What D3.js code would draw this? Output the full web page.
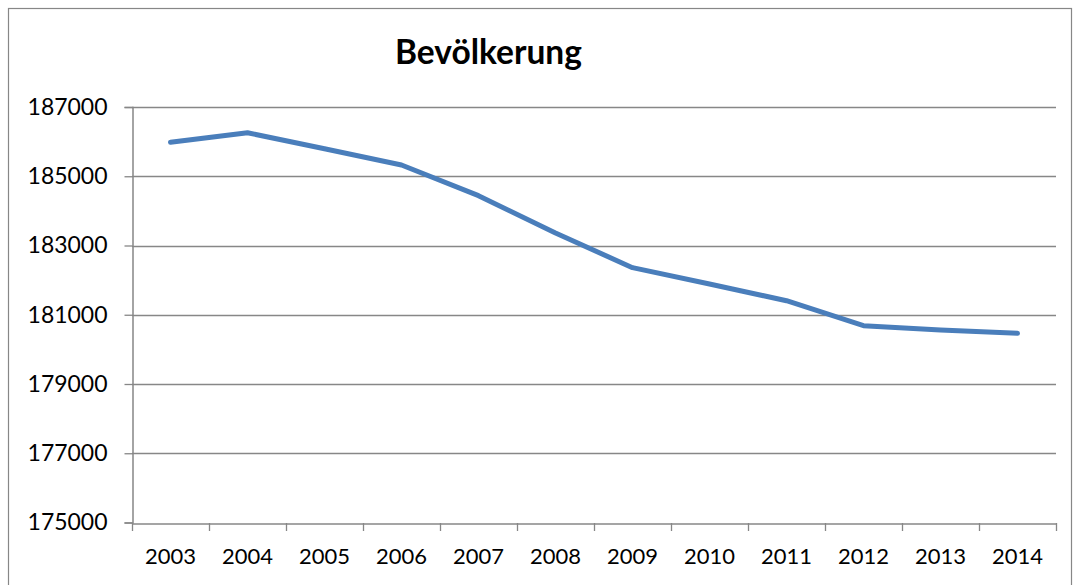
<!DOCTYPE html>
<html>
<head>
<meta charset="utf-8">
<script src="https://cdn.jsdelivr.net/npm/d3@7"></script>
<style>
  html, body { margin: 0; padding: 0; background: #fff; }
  svg { display: block; }
  text { font-family: Lato, "Open Sans", sans-serif; fill: #000; }
</style>
</head>
<body>
<svg id="chart" width="1074" height="585"></svg>
<script>
const title = "Bevölkerung";
const years = ["2003","2004","2005","2006","2007","2008","2009","2010","2011","2012","2013","2014"];
const population = [185980, 186255, 185795, 185325, 184440, 183360, 182360, 181890, 181405, 180685, 180560, 180465];
const yTicks = [175000, 177000, 179000, 181000, 183000, 185000, 187000];

const svg = d3.select("#chart");
const m = { left: 132, right: 1056, top: 107, bottom: 522.5 };

// outer border
svg.append("rect")
  .attr("x", 8.5).attr("y", 8.5)
  .attr("width", 1063).attr("height", 600)
  .attr("fill", "#fff").attr("stroke", "#878787").attr("stroke-width", 1.2);

const x = d3.scaleBand().domain(years).range([m.left, m.right]).paddingInner(0).paddingOuter(0);
const y = d3.scaleLinear().domain([175000, 187000]).range([m.bottom, m.top]);

// gridlines
svg.append("g").selectAll("line").data(yTicks.filter(d => d !== 175000)).join("line")
  .attr("x1", m.left).attr("x2", m.right)
  .attr("y1", d => Math.round(y(d)) + 0.5).attr("y2", d => Math.round(y(d)) + 0.5)
  .attr("stroke", "#878787").attr("stroke-width", 1.3);

// y axis
const yAxis = svg.append("g")
  .attr("transform", `translate(${m.left + 0.5},0)`)
  .call(d3.axisLeft(y).tickValues(yTicks).tickFormat(d3.format("d")).tickSize(8).tickPadding(17));
yAxis.select(".domain").attr("stroke", "#878787").attr("stroke-width", 1.5);
yAxis.selectAll(".tick line").attr("stroke", "#878787").attr("stroke-width", 1.3);
yAxis.selectAll(".tick text").attr("font-size", 20).attr("font-family", "Lato, sans-serif").attr("fill", "#000");

// x axis
const xAxis = svg.append("g")
  .attr("transform", `translate(0,${Math.round(m.bottom) + 0.5})`)
  .call(d3.axisBottom(x).tickSize(0).tickPadding(25));
xAxis.select(".domain").attr("stroke", "#878787").attr("stroke-width", 1.5);
xAxis.selectAll(".tick text").attr("font-size", 20).attr("font-family", "Lato, sans-serif").attr("fill", "#000");
// category boundary ticks
const bounds = years.map(d => x(d)).concat([x(years[years.length - 1]) + x.bandwidth()]);
svg.append("g").selectAll("line").data(bounds).join("line")
  .attr("x1", d => Math.round(d) + 0.5).attr("x2", d => Math.round(d) + 0.5)
  .attr("y1", Math.round(m.bottom)).attr("y2", Math.round(m.bottom) + 8)
  .attr("stroke", "#878787").attr("stroke-width", 1.3);

// fit text widths
function fitWidth(sel, target) {
  sel.each(function() {
    const n = this.getComputedTextLength();
    const fs = parseFloat(d3.select(this).attr("font-size"));
    d3.select(this).attr("font-size", fs * target / n);
  });
}
fitWidth(yAxis.selectAll(".tick text").filter(d => d === 187000), 80);
const yfs = yAxis.selectAll(".tick text").filter(d => d === 187000).attr("font-size");
yAxis.selectAll(".tick text").attr("font-size", yfs);
fitWidth(xAxis.selectAll(".tick text").filter(d => d === "2013"), 51);
const xfs = xAxis.selectAll(".tick text").filter(d => d === "2013").attr("font-size");
xAxis.selectAll(".tick text").attr("font-size", xfs).attr("dy", "0.71em");

// line
const line = d3.line().x((d, i) => x(years[i]) + x.bandwidth() / 2).y(d => y(d));
svg.append("path").datum(population)
  .attr("d", line)
  .attr("fill", "none").attr("stroke", "#4a7ebb").attr("stroke-width", 5)
  .attr("stroke-linecap", "round").attr("stroke-linejoin", "round");

// title
const t = svg.append("text").text(title)
  .attr("x", 488.5).attr("y", 64)
  .attr("text-anchor", "middle")
  .attr("font-weight", "bold").attr("font-size", 28)
  .attr("font-family", "Lato, sans-serif");
fitWidth(t, 187);
</script>
</body>
</html>
